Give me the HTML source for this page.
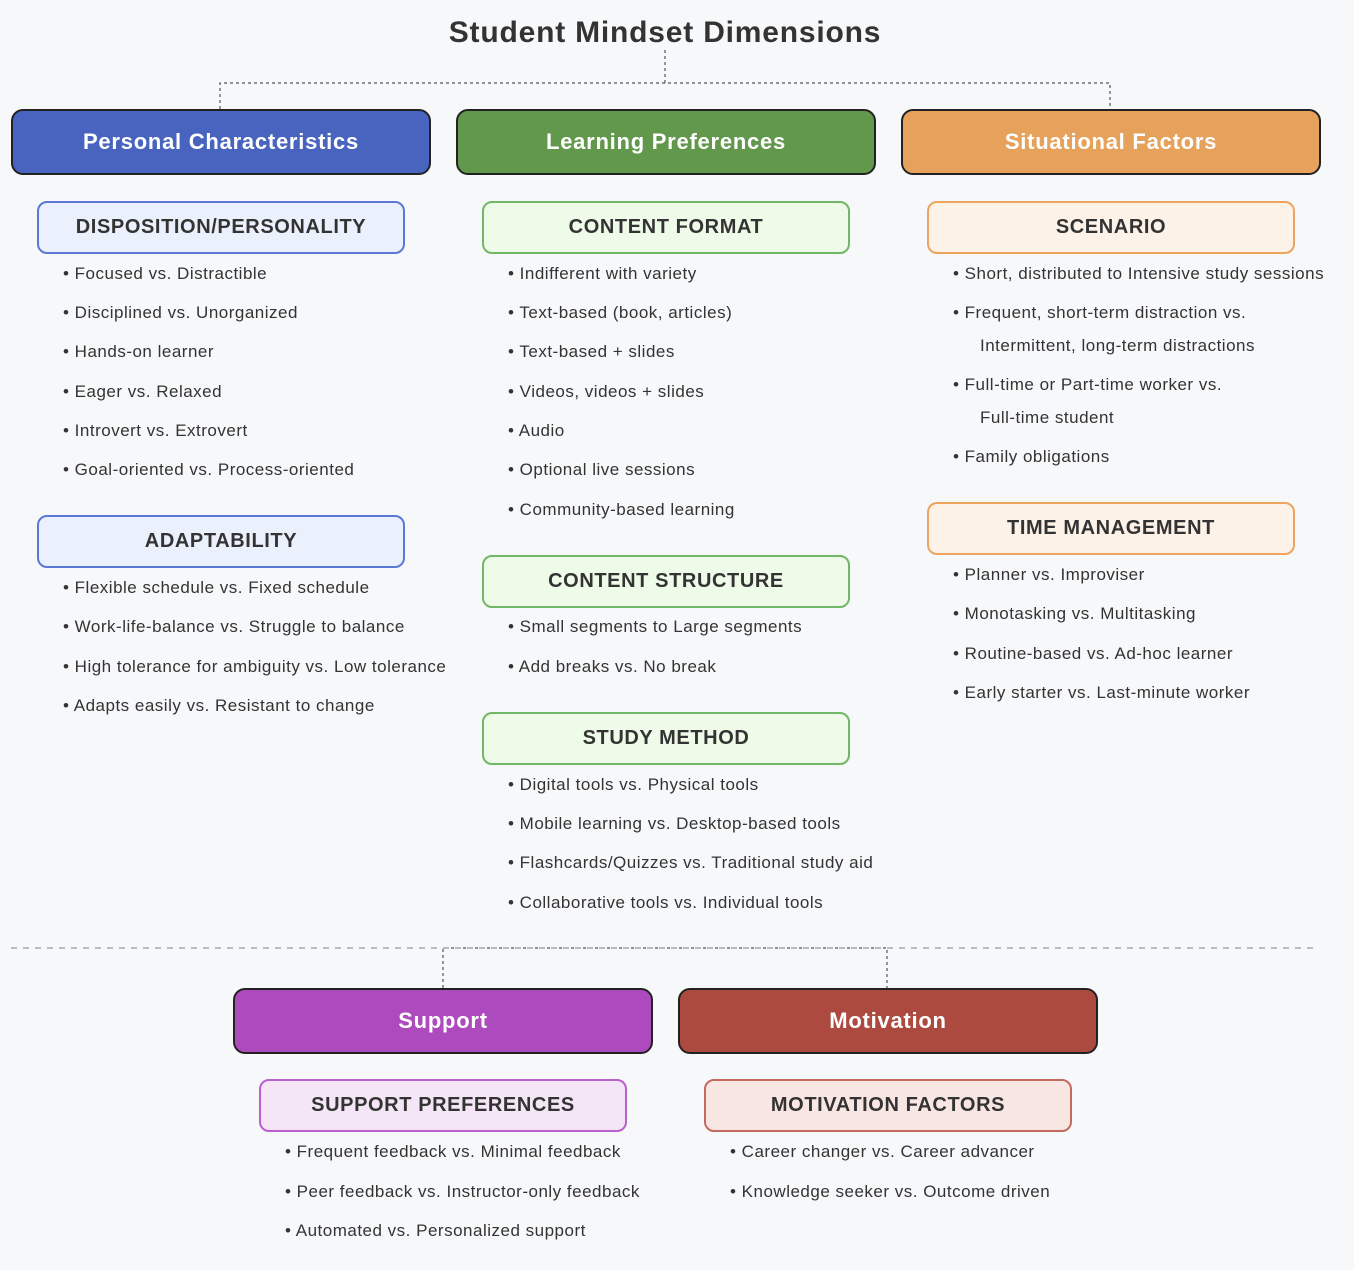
<!DOCTYPE html>
<html><head><meta charset="utf-8"><style>
body{margin:0;width:1354px;height:1270px;background:#f7f8fa;position:relative;overflow:hidden;font-family:"Liberation Sans",Arial,sans-serif;color:#333}
.a{position:absolute}
.h{position:absolute;border:2px solid #222;border-radius:12px;color:#fff;font-weight:bold;font-size:22px;letter-spacing:0.75px;display:flex;align-items:center;justify-content:center;box-sizing:border-box;height:66px;width:420px}
.s{position:absolute;border:2px solid;border-radius:10px;font-weight:bold;font-size:20px;letter-spacing:0.6px;display:flex;align-items:center;justify-content:center;box-sizing:border-box;height:53px;width:368px;color:#333}
.t{position:absolute;font-size:17px;letter-spacing:0.5px;line-height:22px;white-space:nowrap;color:#333}
.b{border-color:#5b78d6;background:#ebf1fc}
.g{border-color:#72b765;background:#eefbe9}
.o{border-color:#eda55e;background:#fcf2e8}
.p{border-color:#bd5fd0;background:#f4e6f6}
.r{border-color:#c56a60;background:#f8e6e3}
</style></head><body>
<svg class="a" style="left:0;top:0" width="1354" height="1270">
<g stroke="#555" stroke-width="1.2" stroke-dasharray="3,3" fill="none">
<path d="M665 50V83M220 109V83H1110V109"/>
<path d="M443 988V948H887V988"/>
</g>
<line x1="11" y1="948" x2="1315" y2="948" stroke="#bbb" stroke-width="2" stroke-dasharray="6,6"/>
</svg>
<div class="a" style="left:0;width:1330px;top:14px;text-align:center;font-size:30px;font-weight:bold;letter-spacing:0.8px;color:#333;line-height:38px">Student Mindset Dimensions</div>

<div class="h" style="left:11px;top:109px;background:#4964bf">Personal Characteristics</div>
<div class="h" style="left:456px;top:109px;background:#62984c">Learning Preferences</div>
<div class="h" style="left:901px;top:109px;background:#e6a15b">Situational Factors</div>

<div class="s b" style="left:37px;top:201px">DISPOSITION/PERSONALITY</div>
<div class="t" style="left:63px;top:263px">• Focused vs. Distractible</div>
<div class="t" style="left:63px;top:302px">• Disciplined vs. Unorganized</div>
<div class="t" style="left:63px;top:341px">• Hands-on learner</div>
<div class="t" style="left:63px;top:381px">• Eager vs. Relaxed</div>
<div class="t" style="left:63px;top:420px">• Introvert vs. Extrovert</div>
<div class="t" style="left:63px;top:459px">• Goal-oriented vs. Process-oriented</div>
<div class="s b" style="left:37px;top:515px">ADAPTABILITY</div>
<div class="t" style="left:63px;top:577px">• Flexible schedule vs. Fixed schedule</div>
<div class="t" style="left:63px;top:616px">• Work-life-balance vs. Struggle to balance</div>
<div class="t" style="left:63px;top:656px">• High tolerance for ambiguity vs. Low tolerance</div>
<div class="t" style="left:63px;top:695px">• Adapts easily vs. Resistant to change</div>

<div class="s g" style="left:482px;top:201px">CONTENT FORMAT</div>
<div class="t" style="left:508px;top:263px">• Indifferent with variety</div>
<div class="t" style="left:508px;top:302px">• Text-based (book, articles)</div>
<div class="t" style="left:508px;top:341px">• Text-based + slides</div>
<div class="t" style="left:508px;top:381px">• Videos, videos + slides</div>
<div class="t" style="left:508px;top:420px">• Audio</div>
<div class="t" style="left:508px;top:459px">• Optional live sessions</div>
<div class="t" style="left:508px;top:499px">• Community-based learning</div>
<div class="s g" style="left:482px;top:555px">CONTENT STRUCTURE</div>
<div class="t" style="left:508px;top:616px">• Small segments to Large segments</div>
<div class="t" style="left:508px;top:656px">• Add breaks vs. No break</div>
<div class="s g" style="left:482px;top:712px">STUDY METHOD</div>
<div class="t" style="left:508px;top:774px">• Digital tools vs. Physical tools</div>
<div class="t" style="left:508px;top:813px">• Mobile learning vs. Desktop-based tools</div>
<div class="t" style="left:508px;top:852px">• Flashcards/Quizzes vs. Traditional study aid</div>
<div class="t" style="left:508px;top:892px">• Collaborative tools vs. Individual tools</div>

<div class="s o" style="left:927px;top:201px">SCENARIO</div>
<div class="t" style="left:953px;top:263px">• Short, distributed to Intensive study sessions</div>
<div class="t" style="left:953px;top:302px">• Frequent, short-term distraction vs.</div>
<div class="t" style="left:980px;top:335px">Intermittent, long-term distractions</div>
<div class="t" style="left:953px;top:374px">• Full-time or Part-time worker vs.</div>
<div class="t" style="left:980px;top:407px">Full-time student</div>
<div class="t" style="left:953px;top:446px">• Family obligations</div>
<div class="s o" style="left:927px;top:502px">TIME MANAGEMENT</div>
<div class="t" style="left:953px;top:564px">• Planner vs. Improviser</div>
<div class="t" style="left:953px;top:603px">• Monotasking vs. Multitasking</div>
<div class="t" style="left:953px;top:643px">• Routine-based vs. Ad-hoc learner</div>
<div class="t" style="left:953px;top:682px">• Early starter vs. Last-minute worker</div>

<div class="h" style="left:233px;top:988px;background:#ad4abd">Support</div>
<div class="h" style="left:678px;top:988px;background:#ac4a3f">Motivation</div>
<div class="s p" style="left:259px;top:1079px">SUPPORT PREFERENCES</div>
<div class="t" style="left:285px;top:1141px">• Frequent feedback vs. Minimal feedback</div>
<div class="t" style="left:285px;top:1181px">• Peer feedback vs. Instructor-only feedback</div>
<div class="t" style="left:285px;top:1220px">• Automated vs. Personalized support</div>
<div class="s r" style="left:704px;top:1079px">MOTIVATION FACTORS</div>
<div class="t" style="left:730px;top:1141px">• Career changer vs. Career advancer</div>
<div class="t" style="left:730px;top:1181px">• Knowledge seeker vs. Outcome driven</div>
</body></html>
